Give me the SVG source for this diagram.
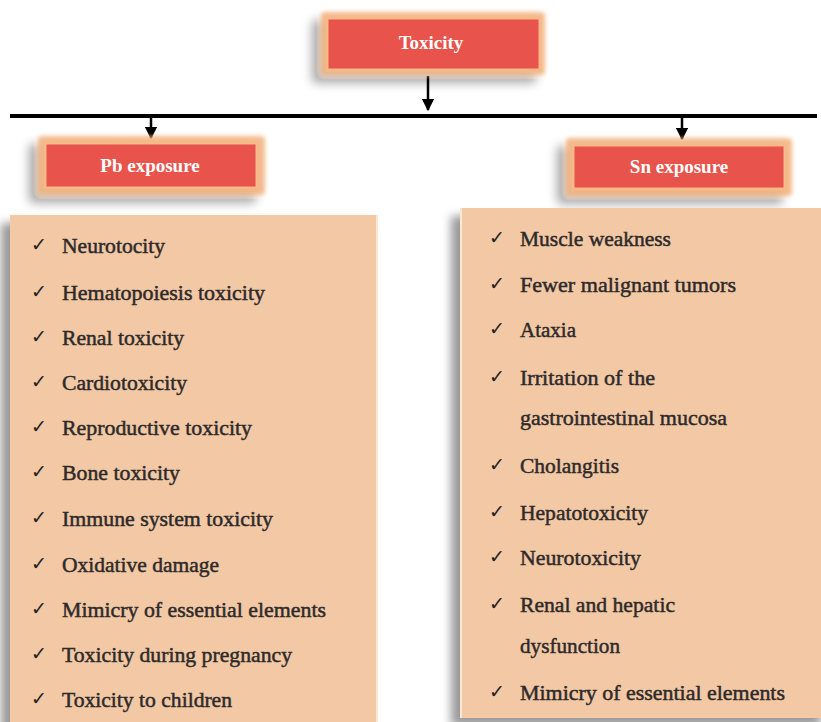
<svg xmlns="http://www.w3.org/2000/svg" width="821" height="722" viewBox="0 0 821 722">
<defs>
<filter id="shadow" x="-20%" y="-30%" width="140%" height="170%">
<feGaussianBlur in="SourceAlpha" stdDeviation="5"/>
<feOffset dx="-9" dy="8" result="b"/>
<feComponentTransfer><feFuncA type="linear" slope="0.4"/></feComponentTransfer>
<feMerge><feMergeNode/><feMergeNode in="SourceGraphic"/></feMerge>
</filter>
<filter id="glow" x="-10%" y="-30%" width="120%" height="160%">
<feGaussianBlur stdDeviation="2"/>
</filter>
<marker id="arr" viewBox="0 0 10 10" refX="9" refY="5" markerWidth="5" markerHeight="5" orient="auto">
<path d="M0,0 L10,5 L0,10 z" fill="#000"/>
</marker>
</defs>
<style>
.head{fill:#e8534b;stroke:#f5b98a;stroke-width:3}
.glow{fill:#f2b07c;opacity:0.85}
.htxt{font-family:"Liberation Serif",serif;font-weight:bold;font-size:19px;fill:#ffffff;text-anchor:middle}
.list{fill:#f2c8a5}
.item{font-family:"Liberation Serif",serif;font-size:20px;fill:#2e2a2a;stroke:#2e2a2a;stroke-width:0.45}
.chk{font-family:"DejaVu Sans",sans-serif;font-size:19px;fill:#222}
.conn{stroke:#000;fill:none}
</style>
<rect width="821" height="722" fill="#ffffff"/>

<g id="connectors">
<line class="conn" x1="10" y1="116" x2="817" y2="116" stroke-width="4"/>
<line class="conn" x1="428" y1="76" x2="428" y2="110" stroke-width="2.5" marker-end="url(#arr)"/>
<line class="conn" x1="151" y1="118" x2="151" y2="138" stroke-width="2.5" marker-end="url(#arr)"/>
<line class="conn" x1="682" y1="118" x2="682" y2="139" stroke-width="2.5" marker-end="url(#arr)"/>
</g>

<g id="toxicity">
<g filter="url(#shadow)">
<rect class="glow" x="321" y="12" width="224" height="63" rx="4" filter="url(#glow)"/>
</g>
<rect class="head" x="327" y="18" width="213" height="52"/>
<text class="htxt" x="431" y="49">Toxicity</text>
</g>

<g id="pb-exposure">
<g filter="url(#shadow)">
<rect class="glow" x="38" y="136" width="227" height="59" rx="4" filter="url(#glow)"/>
</g>
<rect class="head" x="45" y="143" width="212" height="45"/>
<text class="htxt" x="150" y="172">Pb exposure</text>
</g>

<g id="sn-exposure">
<g filter="url(#shadow)">
<rect class="glow" x="566" y="138" width="226" height="58" rx="4" filter="url(#glow)"/>
</g>
<rect class="head" x="573" y="145" width="212" height="44"/>
<text class="htxt" x="679" y="173">Sn exposure</text>
</g>

<g id="pb-list">
<rect x="10" y="215" width="368" height="520" class="list" filter="url(#shadow)"/>
<line x1="377" y1="215" x2="377" y2="722" stroke="#fbe6d6" stroke-width="2"/>
<g class="chk">
<text x="31" y="251">✓</text><text x="31" y="298">✓</text><text x="31" y="343">✓</text><text x="31" y="388">✓</text><text x="31" y="433">✓</text><text x="31" y="478">✓</text><text x="31" y="524">✓</text><text x="31" y="570">✓</text><text x="31" y="615">✓</text><text x="31" y="660">✓</text><text x="31" y="705">✓</text>
</g>
<text class="item" x="62" y="253" textLength="103" lengthAdjust="spacingAndGlyphs">Neurotocity</text>
<text class="item" x="62" y="300" textLength="203" lengthAdjust="spacingAndGlyphs">Hematopoiesis toxicity</text>
<text class="item" x="62" y="345" textLength="122" lengthAdjust="spacingAndGlyphs">Renal toxicity</text>
<text class="item" x="62" y="390" textLength="125" lengthAdjust="spacingAndGlyphs">Cardiotoxicity</text>
<text class="item" x="62" y="435" textLength="190" lengthAdjust="spacingAndGlyphs">Reproductive toxicity</text>
<text class="item" x="62" y="480" textLength="118" lengthAdjust="spacingAndGlyphs">Bone toxicity</text>
<text class="item" x="62" y="526" textLength="211" lengthAdjust="spacingAndGlyphs">Immune system toxicity</text>
<text class="item" x="62" y="572" textLength="157" lengthAdjust="spacingAndGlyphs">Oxidative damage</text>
<text class="item" x="62" y="617" textLength="264" lengthAdjust="spacingAndGlyphs">Mimicry of essential elements</text>
<text class="item" x="62" y="662" textLength="230" lengthAdjust="spacingAndGlyphs">Toxicity during pregnancy</text>
<text class="item" x="62" y="707" textLength="170" lengthAdjust="spacingAndGlyphs">Toxicity to children</text>
</g>

<g id="sn-list">
<rect x="460" y="208" width="370" height="510" class="list" filter="url(#shadow)"/>
<line x1="461" y1="208" x2="461" y2="718" stroke="#fbe6d6" stroke-width="2"/>
<g class="chk">
<text x="489" y="244">✓</text><text x="489" y="290">✓</text><text x="489" y="335">✓</text><text x="489" y="383">✓</text><text x="489" y="471">✓</text><text x="489" y="518">✓</text><text x="489" y="563">✓</text><text x="489" y="610">✓</text><text x="489" y="698">✓</text>
</g>
<text class="item" x="520" y="246" textLength="151" lengthAdjust="spacingAndGlyphs">Muscle weakness</text>
<text class="item" x="520" y="292" textLength="216" lengthAdjust="spacingAndGlyphs">Fewer malignant tumors</text>
<text class="item" x="520" y="337" textLength="56" lengthAdjust="spacingAndGlyphs">Ataxia</text>
<text class="item" x="520" y="385" textLength="135" lengthAdjust="spacingAndGlyphs">Irritation of the</text>
<text class="item" x="520" y="425" textLength="207" lengthAdjust="spacingAndGlyphs">gastrointestinal mucosa</text>
<text class="item" x="520" y="473" textLength="99" lengthAdjust="spacingAndGlyphs">Cholangitis</text>
<text class="item" x="520" y="520" textLength="128" lengthAdjust="spacingAndGlyphs">Hepatotoxicity</text>
<text class="item" x="520" y="565" textLength="121" lengthAdjust="spacingAndGlyphs">Neurotoxicity</text>
<text class="item" x="520" y="612" textLength="155" lengthAdjust="spacingAndGlyphs">Renal and hepatic</text>
<text class="item" x="520" y="653" textLength="100" lengthAdjust="spacingAndGlyphs">dysfunction</text>
<text class="item" x="520" y="700" textLength="265" lengthAdjust="spacingAndGlyphs">Mimicry of essential elements</text>
</g>
</svg>
